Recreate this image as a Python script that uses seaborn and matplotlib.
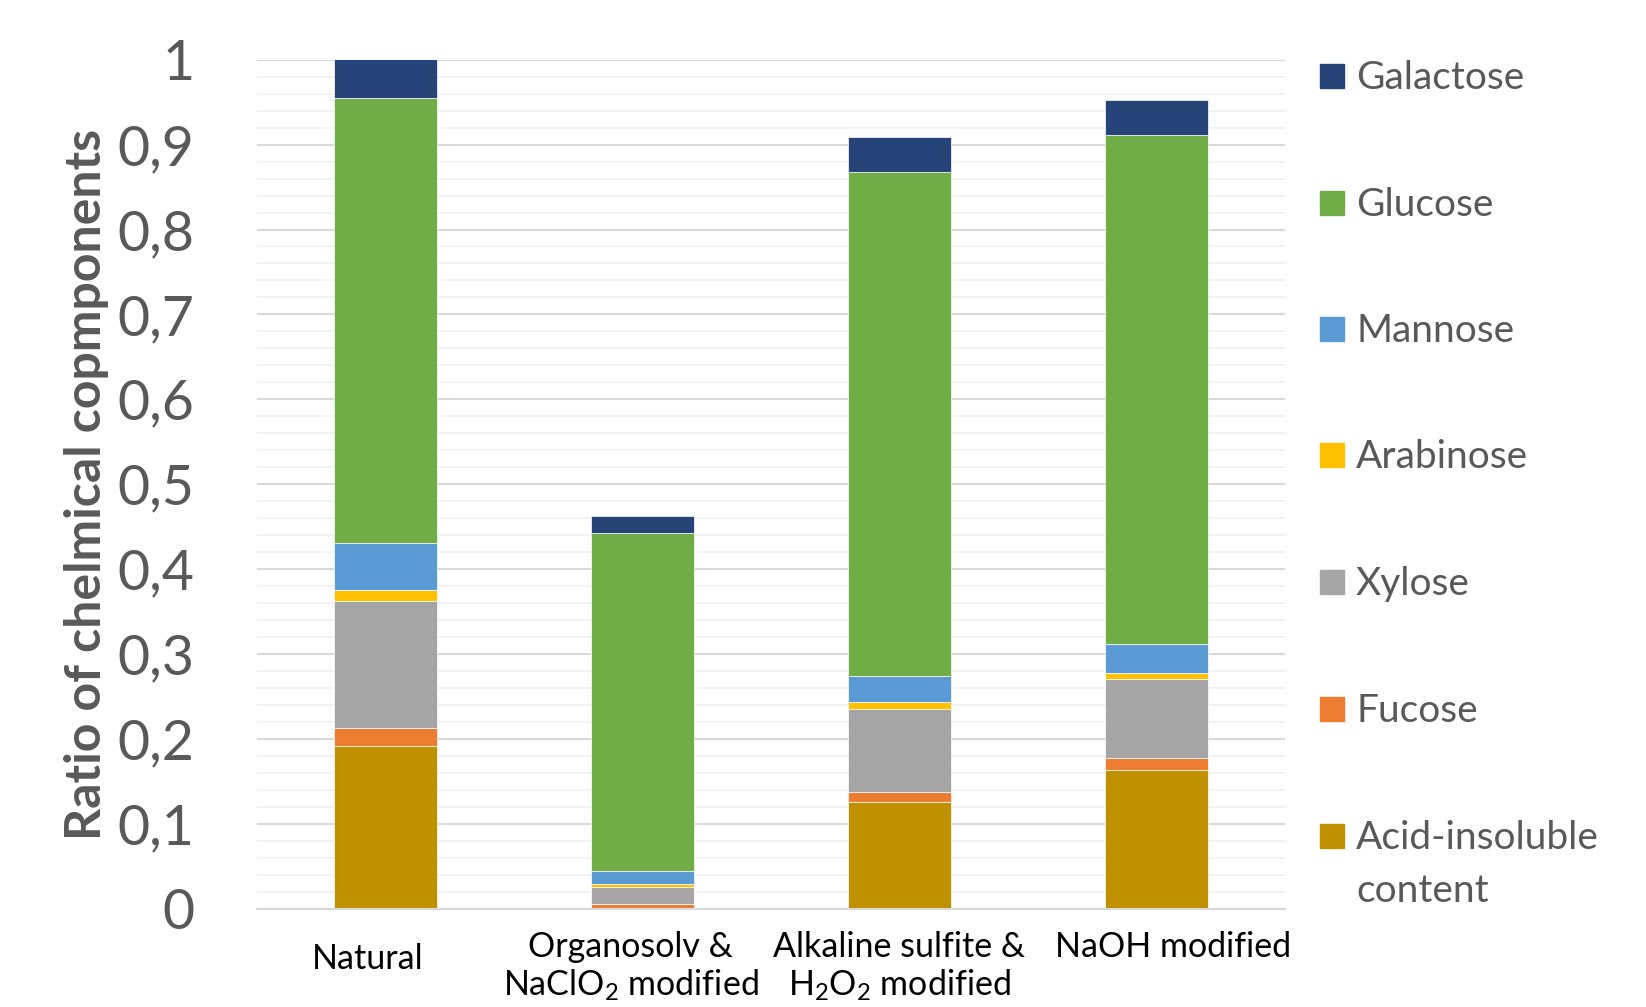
import matplotlib
matplotlib.use("Agg")
import matplotlib.pyplot as plt
import matplotlib.transforms as mtransforms
from matplotlib.patches import Rectangle
from matplotlib.ticker import MultipleLocator, FixedLocator
import seaborn as sns

categories = ["Natural", "Organosolv &\nNaClO$_2$ modified",
              "Alkaline sulfite &\nH$_2$O$_2$ modified", "NaOH modified"]

# stacked from bottom to top
acid = [0.192, 0.0, 0.126, 0.163]
fucose = [0.021, 0.005, 0.012, 0.014]
xylose = [0.150, 0.021, 0.097, 0.094]
arabinose = [0.012, 0.003, 0.009, 0.007]
mannose = [0.056, 0.015, 0.030, 0.034]
glucose = [0.524, 0.399, 0.594, 0.599]
galactose = [0.046, 0.019, 0.041, 0.041]

series_names = ["Acid-insoluble\ncontent", "Fucose", "Xylose", "Arabinose",
                "Mannose", "Glucose", "Galactose"]
series_values = [acid, fucose, xylose, arabinose, mannose, glucose, galactose]
colors = ["#BF9000", "#ED7D31", "#A5A5A5", "#FFC000", "#5B9BD5", "#70AD47", "#264478"]

yticks = [0, 0.1, 0.2, 0.3, 0.4, 0.5, 0.6, 0.7, 0.8, 0.9, 1.0]
ytick_labels = ["0", "0,1", "0,2", "0,3", "0,4", "0,5", "0,6", "0,7", "0,8", "0,9", "1"]

sns.set_style("white")
plt.rcParams['font.family'] = ['Lato', 'DejaVu Sans']
plt.rcParams['mathtext.fontset'] = 'custom'
plt.rcParams['mathtext.rm'] = 'Lato'
plt.rcParams['mathtext.it'] = 'Lato:italic'
plt.rcParams['mathtext.bf'] = 'Lato:bold'

text_grey = "#595959"

fig = plt.figure(figsize=(16.46, 10.07), dpi=100)
ax = fig.add_axes([0.1561, 0.0976, 0.6246, 0.8431])

bottom = [0.0] * len(categories)
for name, vals, col in zip(series_names, series_values, colors):
    sns.barplot(x=categories, y=vals, bottom=bottom, color=col, saturation=1,
                width=0.4, edgecolor="white", linewidth=0.5, ax=ax)
    bottom = [b + v for b, v in zip(bottom, vals)]

ax.set_xlim(-0.5, 3.5)
ax.set_ylim(0, 1.0)
ax.yaxis.set_major_locator(FixedLocator(yticks))
ax.set_yticklabels(ytick_labels)
ax.yaxis.set_minor_locator(MultipleLocator(0.02))
ax.grid(which="major", axis="y", color="#D9D9D9", linewidth=1.5)
ax.grid(which="minor", axis="y", color="#F2F2F2", linewidth=1.5)
ax.grid(which="major", axis="x", visible=False)
ax.set_axisbelow(True)
for s in ["top", "right", "left"]:
    ax.spines[s].set_visible(False)
ax.spines["bottom"].set_color("#D9D9D9")
ax.spines["bottom"].set_linewidth(1.5)

ax.tick_params(axis="y", which="both", length=0, pad=45, labelsize=40, labelcolor=text_grey)
ax.tick_params(axis="x", length=0, pad=16, labelsize=24.5, labelcolor="black")
ax.set_ylabel("Ratio of chelmical copmponents", fontsize=36, fontweight="bold",
              color=text_grey, labelpad=6)
ax.set_xlabel("")

# small Excel-like nudges of the category labels
nudges = [(-18, -12), (-12, 0), (0, 0), (17, 0)]
for lab, (dx, dy) in zip(ax.get_xticklabels(), nudges):
    lab.set_linespacing(1.18)
    lab.set_transform(lab.get_transform() +
                      mtransforms.ScaledTranslation(dx / 100, dy / 100, fig.dpi_scale_trans))

# legend on the right, top entry = last stacked series
W, H = 1646, 1007
centers = [76, 203, 329, 455, 582, 709, 836]
for yc, name, col in zip(centers, series_names[::-1], colors[::-1]):
    fig.add_artist(Rectangle((1320 / W, 1 - (yc + 12) / H), 24 / W, 24 / H,
                             transform=fig.transFigure, color=col))
    fig.text(1356 / W, 1 - (yc + 13) / H, name.split("\n")[0], fontsize=28,
             color=text_grey, va="baseline", ha="left")
    if "\n" in name:
        fig.text(1356 / W, 1 - (yc + 13 + 53) / H, name.split("\n")[1], fontsize=28,
                 color=text_grey, va="baseline", ha="left")

fig.savefig("out.png", dpi=100, facecolor="white")
